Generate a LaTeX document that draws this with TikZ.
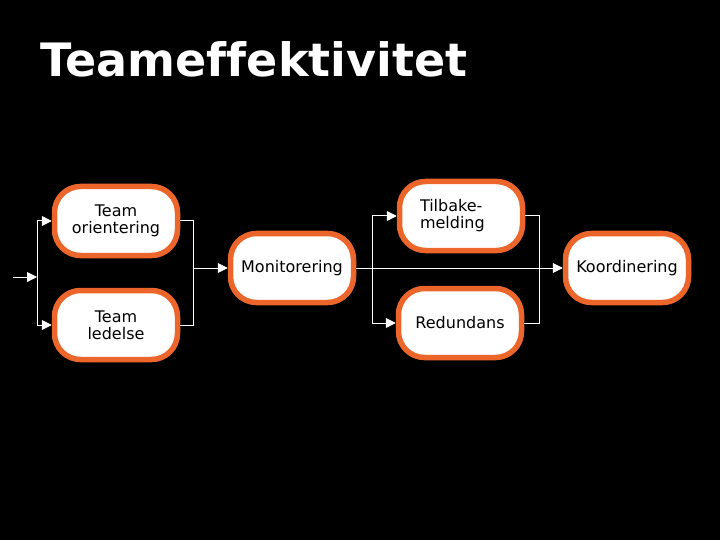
\documentclass[tikz,border=0pt]{standalone}
\usepackage{fontspec}
\setmainfont[Ligatures=NoCommon]{DejaVu Sans}
\usepackage{tikz}
\usetikzlibrary{arrows.meta, positioning}
\definecolor{boxorange}{RGB}{236,102,43}

\begin{document}
\begin{tikzpicture}[x=1pt, y=-1pt, font=\fontsize{16}{17}\selectfont]

        % Setup the style for the boxes
        \tikzset{box style/.style={draw=boxorange,
                                   line width=5.5pt,
                                   fill=white,
                                   rounded corners=26pt,
                                   minimum width=123pt,
                                   minimum height=69pt,
                                   align=center,
                                   inner sep=2pt}}

        % Black page
        \fill[black] (0, 0) rectangle (720, 540);
        \useasboundingbox (0, 0) rectangle (720, 540);

        % Title
        \node[anchor=base west, inner sep=0pt, text=white,
              font=\fontsize{46}{52}\selectfont\bfseries] at (40, 77) (title) {Teameffektivitet};

        % Draw the boxes
        \node[box style] at (116, 221)  (orient)  {Team\\orientering};
        \node[box style] at (116, 325)  (ledelse) {Team\\ledelse};
        \node[box style] at (292, 268)  (moni)    {Monitorering};
        \node[box style, text width=82pt, align=left, inner xsep=20.5pt]
                         at (461, 216)  (tilbake) {Tilbake-\\melding};
        \node[box style] at (460, 323)  (redund)  {Redundans};
        \node[box style] at (627, 268)  (koord)   {Koordinering};

        % Branch points
        \coordinate (in)     at (13, 277);
        \coordinate (split1) at (37, 277);
        \coordinate (join1)  at (193, 268);
        \coordinate (split2) at (372, 268);
        \coordinate (join2)  at (539, 268);

        % Connect the boxes with arrows
        \draw[white, line width=1pt, >={Triangle[length=10pt, width=10pt]}]
            (in)           edge[->]    (split1)
            (split1)       edge[->, to path={|- (\tikztotarget)}] (orient.west)
            (split1)       edge[->, to path={|- (\tikztotarget)}] (ledelse.west)
            (orient.east)  edge[to path={-| (\tikztotarget)}]     (join1)
            (ledelse.east) edge[to path={-| (\tikztotarget)}]     (join1)
            (join1)        edge[->]    (moni.west)
            (moni.east)    edge[->]    (koord.west)
            (split2)       edge[->, to path={|- (\tikztotarget)}] (tilbake.west)
            (split2)       edge[->, to path={|- (\tikztotarget)}] (redund.west)
            (tilbake.east) edge[to path={-| (\tikztotarget)}]     (join2)
            (redund.east)  edge[to path={-| (\tikztotarget)}]     (join2)
            ;
\end{tikzpicture}
\end{document}
